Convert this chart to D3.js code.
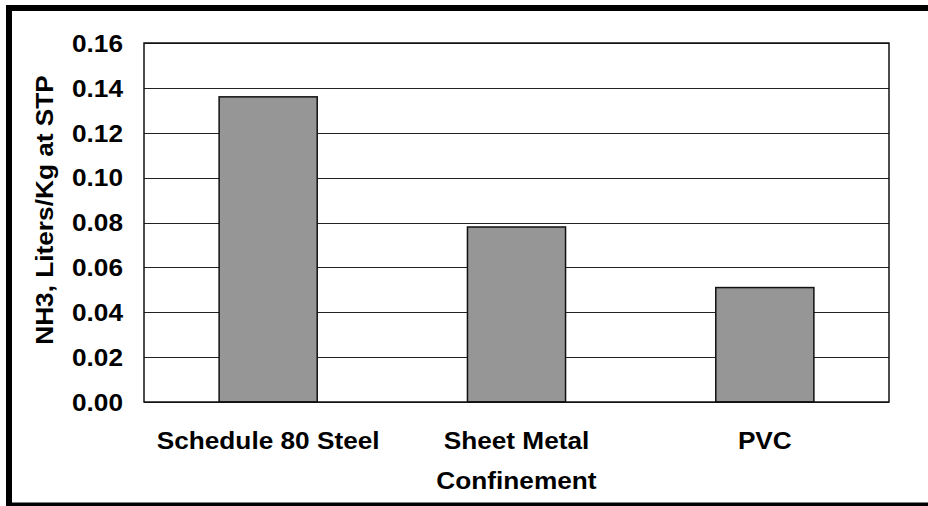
<!DOCTYPE html>
<html>
<head>
<meta charset="utf-8">
<script src="https://cdn.jsdelivr.net/npm/d3@7"></script>
<style>
  body { margin: 0; background: #fff; }
  svg { display: block; }
  text { font-family: "Liberation Sans", Arial, sans-serif; font-weight: bold; fill: #000; }
</style>
</head>
<body>
<div id="chart"></div>
<script>
const categories = ["Schedule 80 Steel", "Sheet Metal", "PVC"];
const values = [0.136, 0.078, 0.051];
const yTicks = [0, 0.02, 0.04, 0.06, 0.08, 0.10, 0.12, 0.14, 0.16];
const xTitle = "Confinement";
const yTitle = "NH3, Liters/Kg at STP";

const width = 928, height = 506;
const margin = { top: 43, right: 39, bottom: 104, left: 144 };
const innerW = width - margin.left - margin.right;
const innerH = height - margin.top - margin.bottom;
const fontSize = 23;

// the source font renders a bit wider than Liberation Sans
const stretch = 1.14;
function widen(sel) {
  sel.each(function () {
    const len = this.getComputedTextLength();
    d3.select(this).attr("textLength", len * stretch).attr("lengthAdjust", "spacingAndGlyphs");
  });
}

const svg = d3.select("#chart").append("svg")
  .attr("width", width)
  .attr("height", height);

// outer frame
svg.append("rect")
  .attr("x", 9).attr("y", 8)
  .attr("width", width + 20).attr("height", 497.5)
  .attr("fill", "none")
  .attr("stroke", "#000")
  .attr("stroke-width", 6);

const g = svg.append("g")
  .attr("transform", "translate(" + margin.left + "," + margin.top + ")");

const x = d3.scaleBand()
  .domain(categories)
  .range([0, innerW])
  .paddingInner(0.605)
  .paddingOuter(0.3025);

const y = d3.scaleLinear()
  .domain([0, 0.16])
  .range([innerH, 0]);

// gridlines
g.append("g")
  .selectAll("line")
  .data(yTicks)
  .join("line")
  .attr("x1", 0).attr("x2", innerW)
  .attr("y1", d => Math.round(y(d)) + 0.5)
  .attr("y2", d => Math.round(y(d)) + 0.5)
  .attr("stroke", "#222")
  .attr("stroke-width", 1);

// bars
g.append("g")
  .selectAll("rect")
  .data(values)
  .join("rect")
  .attr("x", (d, i) => x(categories[i]))
  .attr("y", d => y(d))
  .attr("width", x.bandwidth())
  .attr("height", d => innerH - y(d))
  .attr("fill", "#969696")
  .attr("stroke", "#111")
  .attr("stroke-width", 1.5);

// plot border
g.append("rect")
  .attr("x", 0).attr("y", 0)
  .attr("width", innerW).attr("height", innerH)
  .attr("fill", "none")
  .attr("stroke", "#111")
  .attr("stroke-width", 1.5);

// y axis labels
const yAxis = g.append("g")
  .call(d3.axisLeft(y).tickValues(yTicks).tickFormat(d3.format(".2f")).tickSize(0).tickPadding(21));
yAxis.select(".domain").remove();
yAxis.selectAll("text")
  .attr("font-size", fontSize)
  .attr("font-family", null)
  .attr("dy", "0.36em")
  .call(widen);

// x axis labels
const xAxis = g.append("g")
  .attr("transform", "translate(0," + innerH + ")")
  .call(d3.axisBottom(x).tickSize(0).tickPadding(0));
xAxis.select(".domain").remove();
xAxis.selectAll("text")
  .attr("font-size", fontSize)
  .attr("font-family", null)
  .attr("dy", null)
  .attr("y", 47)
  .call(widen);

// axis titles
g.append("text")
  .attr("x", innerW / 2)
  .attr("y", innerH + 87)
  .attr("text-anchor", "middle")
  .attr("font-size", fontSize)
  .text(xTitle)
  .call(widen);

g.append("text")
  .attr("transform", "translate(" + (53 - margin.left) + "," + (210 - margin.top) + ") rotate(-90)")
  .attr("text-anchor", "middle")
  .attr("font-size", fontSize)
  .text(yTitle)
  .call(widen);
</script>
</body>
</html>
